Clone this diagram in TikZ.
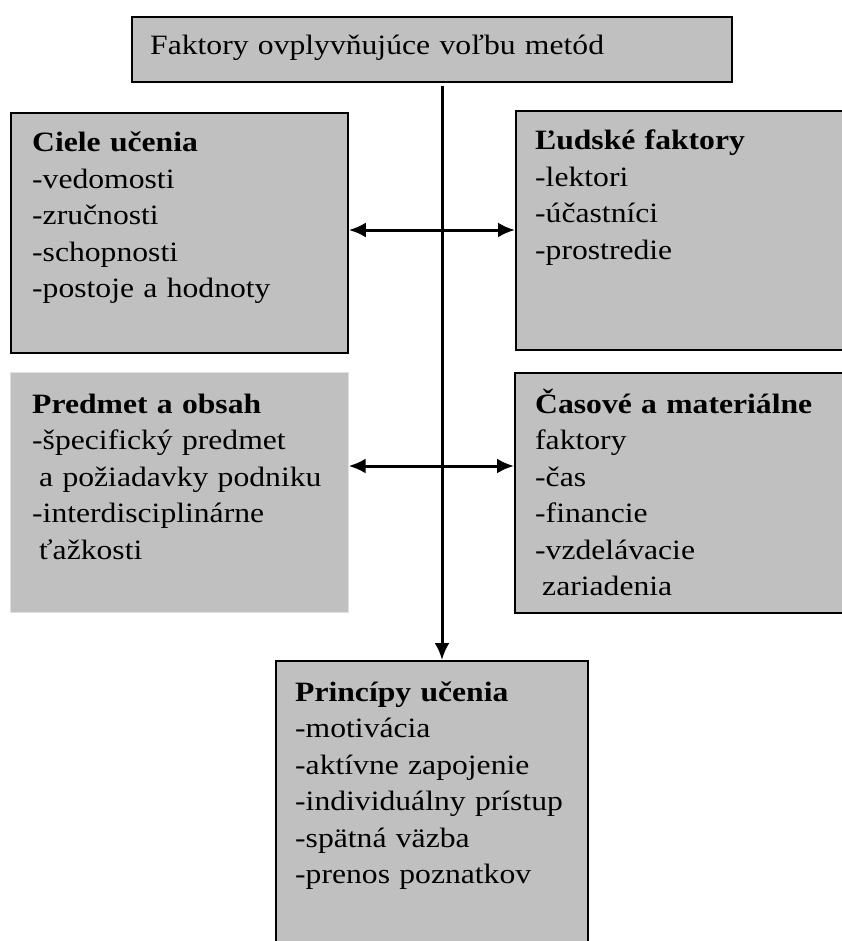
\documentclass[tikz,border=0pt]{standalone}
\usepackage{fontspec}
\setmainfont{Liberation Serif}[FakeStretch=1.13]
\usetikzlibrary{arrows.meta}
\usepackage{xcolor}
\definecolor{boxgray}{RGB}{192,192,192}

\begin{document}
\begin{tikzpicture}[x=1pt,y=1pt]
			\tikzstyle{panel} = [rectangle,anchor=north west,inner sep=0,fill=boxgray,draw=black,line width=1.8pt]
			\tikzstyle{panel2} = [rectangle,anchor=north west,inner sep=0,fill=boxgray,draw=black!12,line width=0.6pt]
			\tikzstyle{boxtext} = [anchor=base west,inner sep=0,text width=300pt,align=left,font=\fontsize{28}{36.5}\selectfont]
			\tikzstyle{flowarrow} = [line width=3pt,-{Latex[length=17pt,width=15pt]}]
			\tikzstyle{twoway} = [line width=3pt,{Latex[length=17pt,width=15pt]}-{Latex[length=17pt,width=15pt]}]
			\useasboundingbox (0,0) rectangle (841,-941);
			\node[panel,minimum width=600pt,minimum height=65pt] (faktory) at (131,-16) {};
			\node[panel,minimum width=337pt,minimum height=240pt] (ciele) at (10,-112) {};
			\node[panel,minimum width=340pt,minimum height=239pt] (ludske) at (515,-110) {};
			\node[panel2,minimum width=338pt,minimum height=240pt] (predmet) at (10,-372) {};
			\node[panel,minimum width=340pt,minimum height=240pt] (casove) at (514,-372) {};
			\node[panel,minimum width=312pt,minimum height=300pt] (princ) at (275,-660) {};
			\node[boxtext,text width=500pt] (tfaktory) at ([shift={(19,-39)}]faktory.north west) {Faktory ovplyvňujúce voľbu metód};
			\node[boxtext] (tciele) at ([shift={(22,-40)}]ciele.north west) {\textbf{Ciele učenia}\\-vedomosti\\-zručnosti\\-schopnosti\\-postoje a hodnoty};
			\node[boxtext] (tludske) at ([shift={(20,-40)}]ludske.north west) {\textbf{Ľudské faktory}\\-lektori\\-účastníci\\-prostredie};
			\node[boxtext] (tpredmet) at ([shift={(22,-41)}]predmet.north west) {\textbf{Predmet a obsah}\\-špecifický predmet\\\hspace*{.25em}a požiadavky podniku\\-interdisciplinárne\\\hspace*{.25em}ťažkosti};
			\node[boxtext] (tcasove) at ([shift={(21,-41)}]casove.north west) {\textbf{Časové a materiálne}\\faktory\\-čas\\-financie\\-vzdelávacie\\\hspace*{.25em}zariadenia};
			\node[boxtext] (tprinc) at ([shift={(20,-41)}]princ.north west) {\textbf{Princípy učenia}\\-motivácia\\-aktívne zapojenie\\-individuálny prístup\\-spätná väzba\\-prenos poznatkov};
			\coordinate (stem) at (442,-86);
			\coordinate (m1) at (442,-230);
			\coordinate (m2) at (442,-466);
			\draw[flowarrow] (stem)--(stem |- princ.north);
			\draw[twoway] (m1 -| ciele.east)--(m1 -| ludske.west);
			\draw[twoway] (m2 -| predmet.east)--(m2 -| casove.west);
\end{tikzpicture}
\end{document}
